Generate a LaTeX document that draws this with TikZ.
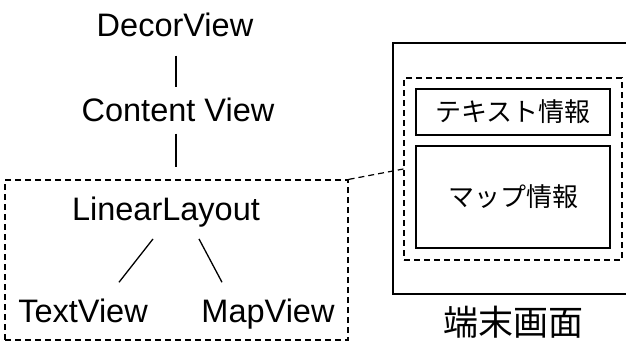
\documentclass[tikz,border=0pt]{standalone}
\usepackage{fontspec}
\setmainfont{Liberation Sans}
\newfontfamily\jpfont{Noto Sans CJK JP}
\usetikzlibrary{calc}

\tikzset{
  viewname/.style={inner sep=0pt, font=\fontsize{32.5}{36}\selectfont},
  jptext/.style={inner sep=0pt, font=\jpfont\fontsize{26}{30}\selectfont},
  dashbox/.style={draw, line width=1.2pt, dash pattern=on 6pt off 4pt, inner sep=0pt},
  solidbox/.style={draw, line width=1.4pt, inner sep=0pt},
  link/.style={line width=1.3pt}
}

\begin{document}
\begin{tikzpicture}[x=1pt,y=-1pt]
    \useasboundingbox (0,0) rectangle (626,341);

    % view tree
    \node[viewname, anchor=base] (decor) at (175,36) {DecorView};
    \node[viewname, anchor=base] (content) at (178,121) {Content View};
    \node[viewname, anchor=base] (linear) at (166,220) {LinearLayout};
    \node[viewname, anchor=base] (textview) at (83,322) {TextView};
    \node[viewname, anchor=base] (mapview) at (268,322) {MapView};

    \draw[link] ([xshift=1pt,yshift=-19pt]decor.south) -- ([xshift=-2pt,yshift=10pt]content.north);
    \draw[link] ([xshift=-2pt,yshift=-12pt]content.south) -- ([xshift=10pt,yshift=29pt]linear.north);
    \draw[link] ([xshift=-13pt,yshift=-12pt]linear.south) -- ([xshift=36pt,yshift=16pt]textview.north);
    \draw[link] ([xshift=33pt,yshift=-12pt]linear.south) -- ([xshift=-46pt,yshift=16pt]mapview.north);

    % group round the layout
    \node[dashbox, minimum width=343pt, minimum height=160pt] (group) at (176.5,260) {};

    % device screen
    \draw[line width=1.4pt] (630,43) -- (393,43) -- (393,294) -- (630,294);
    \node[dashbox, minimum width=218pt, minimum height=182pt] (screen) at (513,169) {};
    \node[solidbox, minimum width=194pt, minimum height=46pt] (textinfo) at (513,112) {};
    \node[solidbox, minimum width=194pt, minimum height=102pt] (mapinfo) at (513,197) {};
    \node[jptext] (textlabel) at (textinfo) {テキスト情報};
    \node[jptext] (maplabel) at (mapinfo) {マップ情報};
    \node[jptext, font=\jpfont\fontsize{35}{38}\selectfont] (device) at (513,322) {端末画面};

    \draw[dashbox] (group.north east) -- (screen.west);
\end{tikzpicture}
\end{document}
